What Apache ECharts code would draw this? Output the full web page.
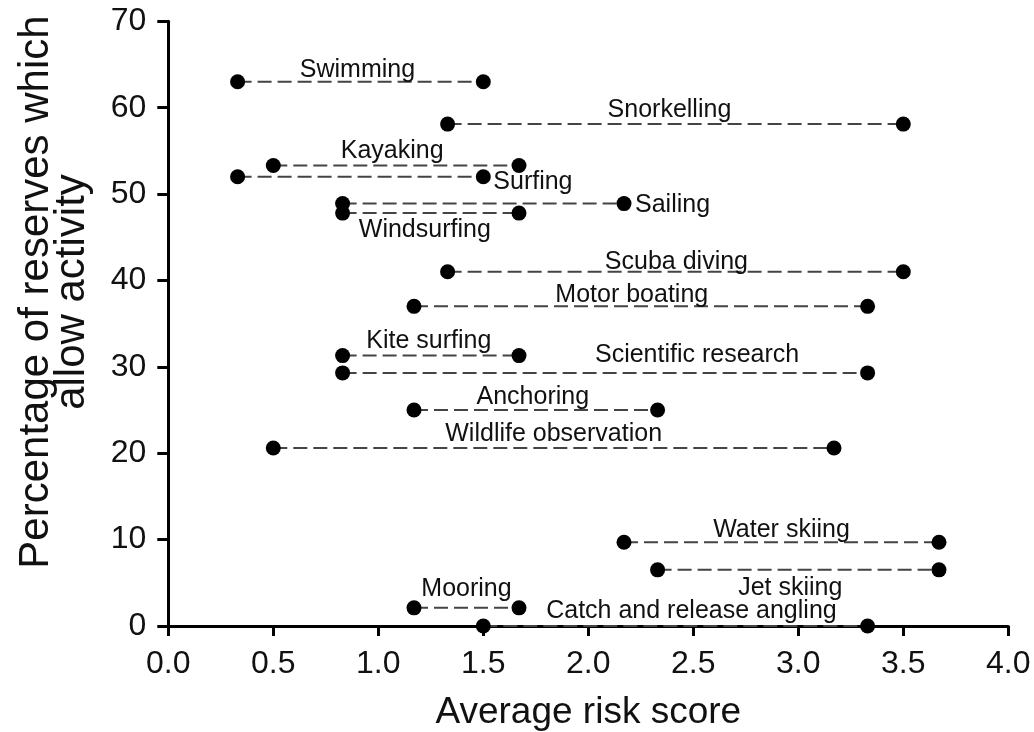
<!DOCTYPE html>
<html>
<head>
<meta charset="utf-8">
<script src="https://cdn.jsdelivr.net/npm/echarts@6/dist/echarts.min.js"></script>
<style>
html,body{margin:0;padding:0;background:#fff;}
#chart{width:1034px;height:732px;}
</style>
</head>
<body>
<div id="chart"></div>
<script>
// ---- data ----
const activities = ['Swimming','Snorkelling','Kayaking','Surfing','Sailing','Windsurfing','Scuba diving','Motor boating','Kite surfing','Scientific research','Anchoring','Wildlife observation','Water skiing','Jet skiing','Mooring','Catch and release angling'];
const lowRisk  = [0.33,1.33,0.5,0.33,0.83,0.83,1.33,1.17,0.83,0.83,1.17,0.5,2.17,2.33,1.17,1.5];
const highRisk = [1.5,3.5,1.67,1.5,2.17,1.67,3.5,3.33,1.67,3.33,2.33,3.17,3.67,3.67,1.67,3.33];
const pctAllowing = [63,58.1,53.3,52,48.9,47.8,41,37,31.3,29.3,25,20.6,9.7,6.5,2.1,0];

const xAxisTitle = 'Average risk score';
const yAxisTitle = 'Percentage of reserves which\nallow activity';

// ---- label layout (pixel offsets, style only) ----
const labelLayout = {
  'Swimming': {at:'mid', dx:-3, dy:-12},
  'Snorkelling': {at:'mid', dx:-6, dy:-14},
  'Kayaking': {at:'mid', dx:-4, dy:-14},
  'Surfing': {at:'hi', dx:10, dy:5, align:'left'},
  'Sailing': {at:'hi', dx:11, dy:2, align:'left'},
  'Windsurfing': {at:'mid', dx:-6, dy:17},
  'Scuba diving': {at:'mid', dx:1, dy:-10},
  'Motor boating': {at:'mid', dx:-9, dy:-11},
  'Kite surfing': {at:'mid', dx:-2, dy:-15},
  'Scientific research': {at:'mid', dx:92, dy:-18},
  'Anchoring': {at:'mid', dx:-3, dy:-13},
  'Wildlife observation': {at:'mid', dx:0, dy:-14},
  'Water skiing': {at:'mid', dx:0, dy:-12},
  'Jet skiing': {at:'mid', dx:-8, dy:18},
  'Mooring': {at:'mid', dx:0, dy:-19},
  'Catch and release angling': {at:'mid', dx:16, dy:-15}
};

const FONT = 'Liberation Sans, Arial, Helvetica, sans-serif';
const TXT = '#111';

const chart = echarts.init(document.getElementById('chart'), null, {renderer:'canvas'});

const series = activities.map((name, i) => ({
  type: 'line',
  name: name,
  data: [[lowRisk[i], pctAllowing[i]], [highRisk[i], pctAllowing[i]]],
  symbol: 'circle',
  symbolSize: 15,
  showSymbol: true,
  clip: false,
  silent: true,
  z: 3,
  itemStyle: {color: '#000', borderWidth: 0, opacity: 1},
  lineStyle: {color: '#444', width: 2, type: [14, 6]},
  label: {show: false},
  emphasis: {disabled: true}
}));

const labelData = activities.map((name, i) => {
  const l = labelLayout[name];
  const x = l.at === 'hi' ? highRisk[i] : (lowRisk[i] + highRisk[i]) / 2;
  return {
    value: [x, pctAllowing[i]],
    name: name,
    label: {
      show: true,
      position: 'inside',
      align: l.align || 'center',
      verticalAlign: 'middle',
      offset: [l.dx, l.dy],
      color: TXT,
      opacity: 1,
      fontFamily: FONT,
      fontSize: 25,
      formatter: name
    }
  };
});

series.push({
  type: 'scatter',
  name: 'labels',
  data: labelData,
  symbolSize: 0,
  clip: false,
  silent: true,
  z: 5,
  itemStyle: {color: '#fff', opacity: 1},
  label: {fontFamily: FONT, fontSize: 25, color: TXT, opacity: 1},
  emphasis: {disabled: true}
});

const option = {
  animation: false,
  backgroundColor: '#fff',
  grid: {left: 168.3, right: 25.7, top: 21.3, bottom: 106, containLabel: false, outerBoundsMode: 'none'},
  xAxis: {
    type: 'value', min: 0, max: 4, interval: 0.5,
    name: xAxisTitle, nameLocation: 'middle', nameGap: 68,
    nameTextStyle: {fontFamily: FONT, fontSize: 37, color: TXT},
    axisLine: {show: true, onZero: false, lineStyle: {color: '#000', width: 3}},
    axisTick: {show: true, inside: false, length: 10, lineStyle: {color: '#000', width: 3}},
    axisLabel: {margin: 22, fontFamily: FONT, fontSize: 32, color: TXT,
      formatter: v => v.toFixed(1)},
    splitLine: {show: false}
  },
  yAxis: {
    type: 'value', min: 0, max: 70, interval: 10,
    axisLine: {show: true, onZero: false, lineStyle: {color: '#000', width: 3}},
    axisTick: {show: true, inside: false, length: 11, lineStyle: {color: '#000', width: 3}},
    axisLabel: {margin: 22, fontFamily: FONT, fontSize: 32, color: TXT},
    splitLine: {show: false}
  },
  graphic: [{
    type: 'text',
    x: 54, y: 292,
    rotation: Math.PI / 2,
    silent: true,
    style: {
      text: yAxisTitle,
      fontFamily: FONT, fontSize: 42, lineHeight: 36,
      fill: TXT, align: 'center', verticalAlign: 'middle'
    }
  }],
  series: series
};
chart.setOption(option);
</script>
</body>
</html>
